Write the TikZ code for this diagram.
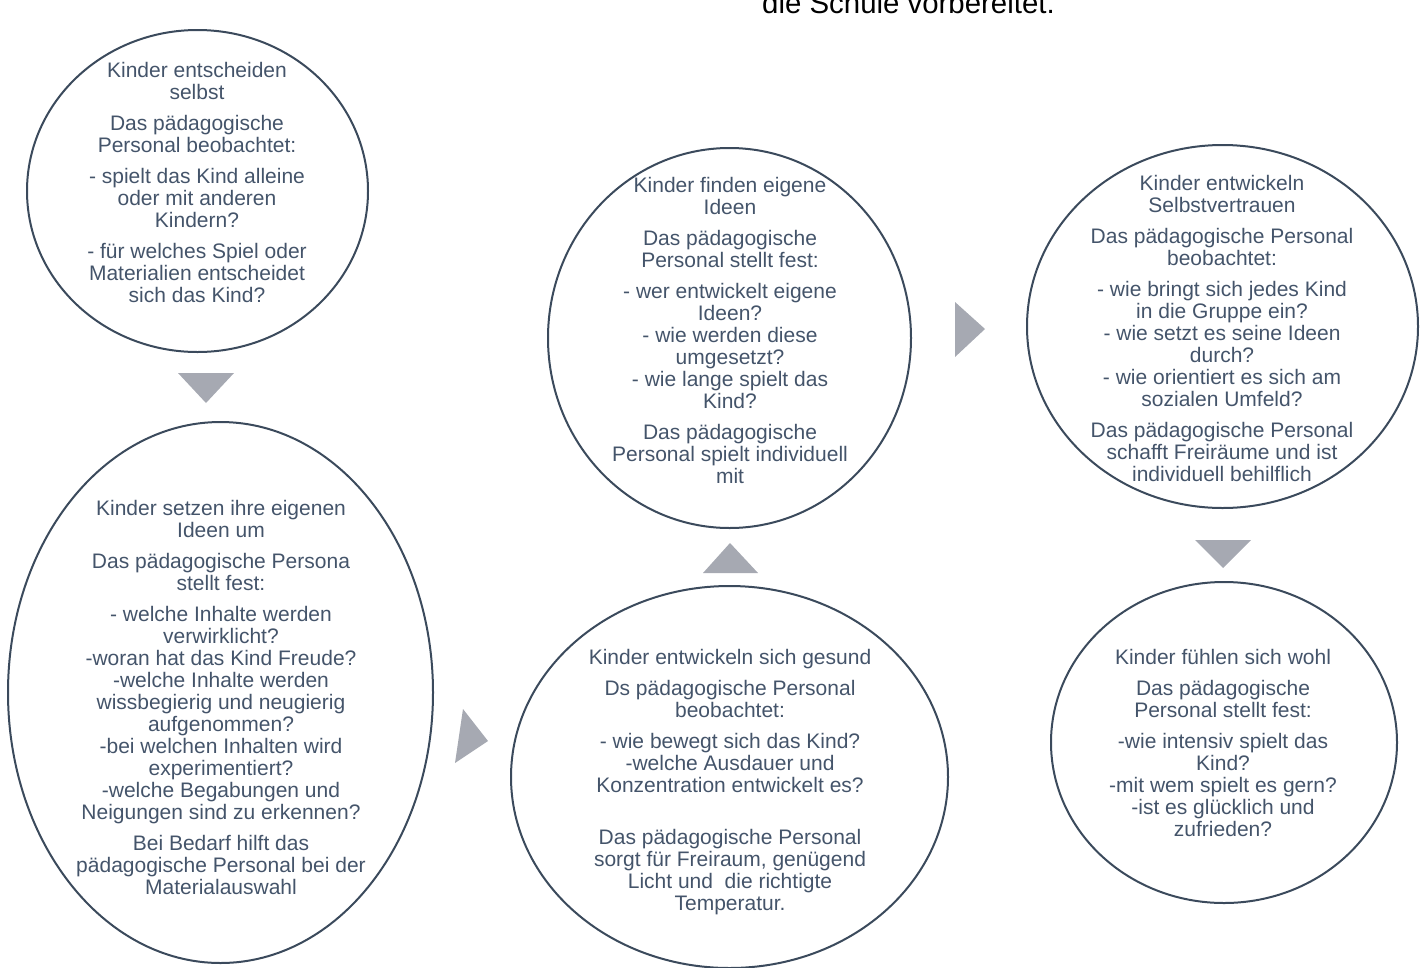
\documentclass[tikz,border=0pt]{standalone}
\usepackage{fontspec}
\setmainfont{Liberation Sans}
\usetikzlibrary{shapes.geometric}
\definecolor{txtc}{HTML}{44546A}
\definecolor{linec}{HTML}{3B4A5C}
\definecolor{tric}{HTML}{A6A9B2}
\tikzset{
  bubble/.style={ellipse, draw=linec, line width=2pt, inner sep=0pt},
  bubtext/.style={anchor=north, align=center, text=txtc, inner sep=0pt,
    font=\fontsize{21}{22}\selectfont},
  tri/.style={fill=tric, draw=none},
}
\newcommand{\pg}{\\[9pt]}
\begin{document}
\begin{tikzpicture}[x=1pt,y=-1pt]
\useasboundingbox (0,0) rectangle (1424,967);
% title (cut off at top)
\node[anchor=base, inner sep=0pt, font=\fontsize{29.4}{30}\selectfont] (title) at (908.5,13) {die Schule vorbereitet.};
% ellipses
\node[bubble, minimum width=341pt, minimum height=322pt] (e1) at (197.5,191) {};
\node[bubble, minimum width=425pt, minimum height=541pt] (e2) at (220.5,692.5) {};
\node[bubble, minimum width=363pt, minimum height=380pt] (e3) at (729.5,338) {};
\node[bubble, minimum width=391pt, minimum height=363pt] (e4) at (1222.5,326.5) {};
\node[bubble, minimum width=437pt, minimum height=382pt] (e5) at (729.5,777) {};
\node[bubble, minimum width=346pt, minimum height=321pt] (e6) at (1224,742.5) {};
% texts
\node[bubtext] (t1) at (197,62) {Kinder entscheiden\\ selbst\pg Das pädagogische\\ Personal beobachtet:\pg - spielt das Kind alleine\\ oder mit anderen\\ Kindern?\pg - für welches Spiel oder\\ Materialien entscheidet\\ sich das Kind?};
\node[bubtext] (t2) at (221,500.5) {Kinder setzen ihre eigenen\\ Ideen um\pg Das pädagogische Persona\\ stellt fest:\pg - welche Inhalte werden\\ verwirklicht?\\ -woran hat das Kind Freude?\\ -welche Inhalte werden\\ wissbegierig und neugierig\\ aufgenommen?\\ -bei welchen Inhalten wird\\ experimentiert?\\ -welche Begabungen und\\ Neigungen sind zu erkennen?\pg Bei Bedarf hilft das\\ pädagogische Personal bei der\\ Materialauswahl};
\node[bubtext] (t3) at (730,177) {Kinder finden eigene\\ Ideen\pg Das pädagogische\\ Personal stellt fest:\pg - wer entwickelt eigene\\ Ideen?\\ - wie werden diese\\ umgesetzt?\\ - wie lange spielt das\\ Kind?\pg Das pädagogische\\ Personal spielt individuell\\ mit};
\node[bubtext] (t4) at (1222,175) {Kinder entwickeln\\ Selbstvertrauen\pg Das pädagogische Personal\\ beobachtet:\pg - wie bringt sich jedes Kind\\ in die Gruppe ein?\\ - wie setzt es seine Ideen\\ durch?\\ - wie orientiert es sich am\\ sozialen Umfeld?\pg Das pädagogische Personal\\ schafft Freiräume und ist\\ individuell behilflich};
\node[bubtext] (t5) at (730,649) {Kinder entwickeln sich gesund\pg Ds pädagogische Personal\\ beobachtet:\pg - wie bewegt sich das Kind?\\ -welche Ausdauer und\\ Konzentration entwickelt es?\\[30pt] Das pädagogische Personal\\ sorgt für Freiraum, genügend\\ Licht und\ \ die richtigte\\ Temperatur.};
\node[bubtext] (t6) at (1223,649) {Kinder fühlen sich wohl\pg Das pädagogische\\ Personal stellt fest:\pg -wie intensiv spielt das\\ Kind?\\ -mit wem spielt es gern?\\ -ist es glücklich und\\ zufrieden?};
% arrow triangles
\fill[tri] (178,373) -- (234,373) -- (206,403) -- cycle;
\fill[tri] (463,709) -- (488,741) -- (455,763) -- cycle;
\fill[tri] (703,573) -- (730,543) -- (758,573) -- cycle;
\fill[tri] (955,302) -- (985,329) -- (955,357) -- cycle;
\fill[tri] (1195,540) -- (1251,540) -- (1223,568) -- cycle;
\end{tikzpicture}
\end{document}
